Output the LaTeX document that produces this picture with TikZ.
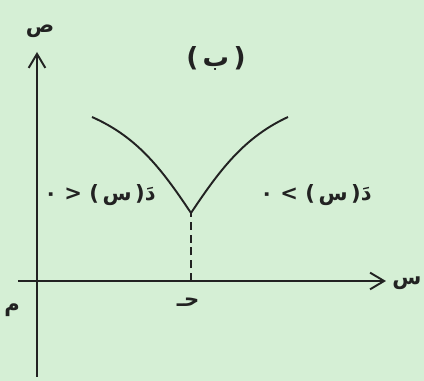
\documentclass[tikz,border=0pt]{standalone}
\usepackage{fontspec}
\usetikzlibrary{arrows.meta}
\newfontfamily\arabicfont[Script=Arabic]{DejaVu Sans}
\TeXXeTstate=1
\definecolor{bggreen}{HTML}{D5EFD5}
\definecolor{ink}{HTML}{222222}

\begin{document}
\begin{tikzpicture}[x=0.02cm, y=-0.02cm, line width=1.1pt, draw=ink, text=ink,
    axis/.style={-{Straight Barb[length=8pt,width=9.5pt]}},
    lbl/.style={font=\arabicfont\bfseries\fontsize{12}{14}\selectfont},
    title/.style={font=\arabicfont\bfseries\fontsize{15}{17}\selectfont}]
\useasboundingbox (0,0) rectangle (424,381);
\fill[bggreen] (0,0) rectangle (424,381);
% axes
\coordinate (xa) at (18,281);
\coordinate (xb) at (386,281);
\coordinate (ya) at (37,377);
\coordinate (yb) at (37,52);
\draw[axis] (xa) -- (xb);
\draw[axis] (ya) -- (yb);
\node[lbl] (xlabel) at (407,283) {\beginR س\endR};
\node[lbl] (ylabel) at (40,31) {\beginR ص\endR};
\node[lbl] (origin) at (12,310) {\beginR م\endR};
\node[title] (part) at (216,58) {\beginR(\,ب\,)\endR};
% curve with a cusp
\coordinate (cusp) at (191,213);
\coordinate (foot) at (191,281);
\coordinate (lend) at (92,117);
\coordinate (rend) at (288,117);
\draw (lend) .. controls (137,137) and (161,168) .. (cusp)
      .. controls (221,168) and (245,137) .. (rend);
\draw[dash pattern=on 4.5pt off 2.8pt] (foot) -- (cusp);
\node[lbl] (c) at (188,302) {\beginR حـ\endR};
\node[lbl] (neg) at (100,195) {\beginR دَ(\,س\,) < ٠\endR};
\node[lbl] (pos) at (316,195) {\beginR دَ(\,س\,) > ٠\endR};
\end{tikzpicture}
\end{document}
